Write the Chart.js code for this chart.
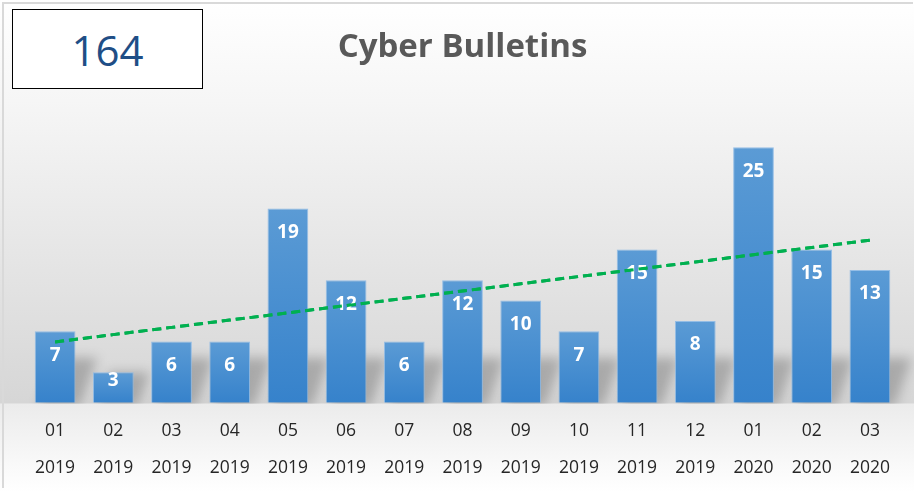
<!DOCTYPE html>
<html>
<head>
<meta charset="utf-8">
<script src="https://cdn.jsdelivr.net/npm/chart.js@4"></script>
<style>
    html, body { margin: 0; padding: 0; background: #fff; }
    #wrap { position: relative; width: 914px; height: 492px; overflow: hidden; }
    #frame { position: absolute; left: 2px; top: 2px; width: 911px; height: 486px; border: 2px solid #d9d9d9; border-right: none; border-bottom: none; box-sizing: border-box; pointer-events: none; }
    #totalBox {
        position: absolute; left: 12px; top: 9px; width: 191px; height: 80px;
        border: 1.5px solid #000; box-sizing: border-box; background: #fff;
        font-family: "Open Sans", sans-serif; font-size: 42px; color: #1f4e86;
        display: flex; align-items: center; justify-content: center;
    }
</style>
</head>
<body>
<div id="wrap">
    <canvas id="bulletinChart" width="914" height="492"></canvas>
    <div id="frame"></div>
    <div id="totalBox"></div>
</div>
<script>
// Chart data
const months = ['01', '02', '03', '04', '05', '06', '07', '08', '09', '10', '11', '12', '01', '02', '03'];
const years = ['2019', '2019', '2019', '2019', '2019', '2019', '2019', '2019', '2019', '2019', '2019', '2019', '2020', '2020', '2020'];
const bulletins = [7, 3, 6, 6, 19, 12, 6, 12, 10, 7, 15, 8, 25, 15, 13];

// Linear trendline (least squares, as Excel does)
function linearTrend(values) {
    const n = values.length;
    const meanX = (n - 1) / 2;
    const meanY = values.reduce((a, b) => a + b, 0) / n;
    let num = 0, den = 0;
    values.forEach((v, i) => {
        num += (i - meanX) * (v - meanY);
        den += (i - meanX) * (i - meanX);
    });
    const slope = num / den;
    return values.map((v, i) => meanY + slope * (i - meanX));
}

document.getElementById('totalBox').textContent = bulletins.reduce((a, b) => a + b, 0);

// Background gradient, bar shadows and value labels
const backdropPlugin = {
    id: 'backdrop',
    beforeDraw(chart) {
        const { ctx, chartArea } = chart;
        const h = chart.height;
        ctx.save();
        let g = ctx.createLinearGradient(0, 0, 0, chartArea.bottom);
        g.addColorStop(0, '#ffffff');
        g.addColorStop(0.25, '#f6f6f6');
        g.addColorStop(1, '#d6d6d6');
        ctx.fillStyle = g;
        ctx.fillRect(0, 0, chart.width, chartArea.bottom + 1);
        g = ctx.createLinearGradient(0, chartArea.bottom, 0, h);
        g.addColorStop(0, '#ebebeb');
        g.addColorStop(1, '#ffffff');
        ctx.fillStyle = g;
        ctx.fillRect(0, chartArea.bottom + 1, chart.width, h - chartArea.bottom);
        ctx.restore();
    },
    beforeDatasetsDraw(chart) {
        const { ctx, chartArea } = chart;
        const meta = chart.getDatasetMeta(1);
        ctx.save();
        ctx.beginPath();
        ctx.rect(chartArea.left - 20, chartArea.top, chartArea.width + 40, chartArea.bottom - chartArea.top + 1);
        ctx.clip();
        ctx.filter = 'blur(6px)';
        ctx.fillStyle = 'rgba(0, 0, 0, 0.22)';
        meta.data.forEach(bar => {
            const left = bar.x - bar.width / 2;
            const right = bar.x + bar.width / 2;
            const sh = Math.min(bar.base - bar.y, 45);
            const shift = sh * 0.4;
            ctx.beginPath();
            ctx.moveTo(left + 4, bar.base + 4);
            ctx.lineTo(right + 4, bar.base + 4);
            ctx.lineTo(right + 4 + shift, bar.base - sh);
            ctx.lineTo(left + 4 + shift, bar.base - sh);
            ctx.closePath();
            ctx.fill();
        });
        ctx.restore();
    },
    afterDatasetsDraw(chart) {
        const { ctx } = chart;
        const meta = chart.getDatasetMeta(1);
        ctx.save();
        ctx.fillStyle = '#ffffff';
        ctx.font = 'bold 19px "Open Sans", sans-serif';
        ctx.textAlign = 'center';
        ctx.textBaseline = 'middle';
        meta.data.forEach((bar, i) => {
            const h = bar.base - bar.y;
            const offset = h >= 50 ? 24 : Math.max(8, h - 22);
            ctx.fillText(String(bulletins[i]), bar.x, bar.y + offset);
        });
        ctx.restore();
        // trendline stays on top of the labels
        chart.getDatasetMeta(0).controller.draw();
    }
};

function barGradient(context) {
    const chart = context.chart;
    const y = chart.scales && chart.scales.y;
    if (!chart.chartArea || !y || context.raw === undefined) return '#4a8fd2';
    const top = y.getPixelForValue(context.raw);
    const base = y.getPixelForValue(0);
    const g = chart.ctx.createLinearGradient(0, top, 0, base);
    g.addColorStop(0, '#5b9bd5');
    g.addColorStop(1, '#3682cb');
    return g;
}

const ctx = document.getElementById('bulletinChart').getContext('2d');
const bulletinChart = new Chart(ctx, {
    data: {
        labels: months.map((m, i) => [m, years[i]]),
        datasets: [{
            type: 'line',
            label: 'Trend',
            data: linearTrend(bulletins),
            borderColor: '#00b050',
            borderWidth: 3,
            borderDash: [9, 5],
            pointRadius: 0,
            fill: false,
            tension: 0,
            order: 0
        }, {
            type: 'bar',
            label: 'Cyber Bulletins',
            data: bulletins,
            backgroundColor: barGradient,
            borderColor: 'rgba(140, 185, 230, 0.9)',
            borderWidth: 1,
            categoryPercentage: 1,
            barPercentage: 0.7,
            order: 1
        }]
    },
    options: {
        responsive: false,
        animation: false,
        layout: { padding: { left: 26, right: 15, top: 0, bottom: 3 } },
        plugins: {
            legend: { display: false },
            tooltip: { enabled: false },
            title: {
                display: true,
                text: 'Cyber Bulletins',
                color: '#595959',
                font: { family: '"Open Sans", sans-serif', size: 33, weight: 'bold', lineHeight: 1.2 },
                padding: { top: 28, bottom: 49 }
            }
        },
        scales: {
            x: {
                grid: { display: false },
                border: { display: false },
                ticks: {
                    color: '#262626',
                    font: { family: '"Open Sans", sans-serif', size: 17.5, lineHeight: 2.12 },
                    maxRotation: 0,
                    autoSkip: false,
                    padding: 2
                }
            },
            y: {
                display: false,
                min: 0,
                max: 28
            }
        }
    },
    plugins: [backdropPlugin]
});
</script>
</body>
</html>
